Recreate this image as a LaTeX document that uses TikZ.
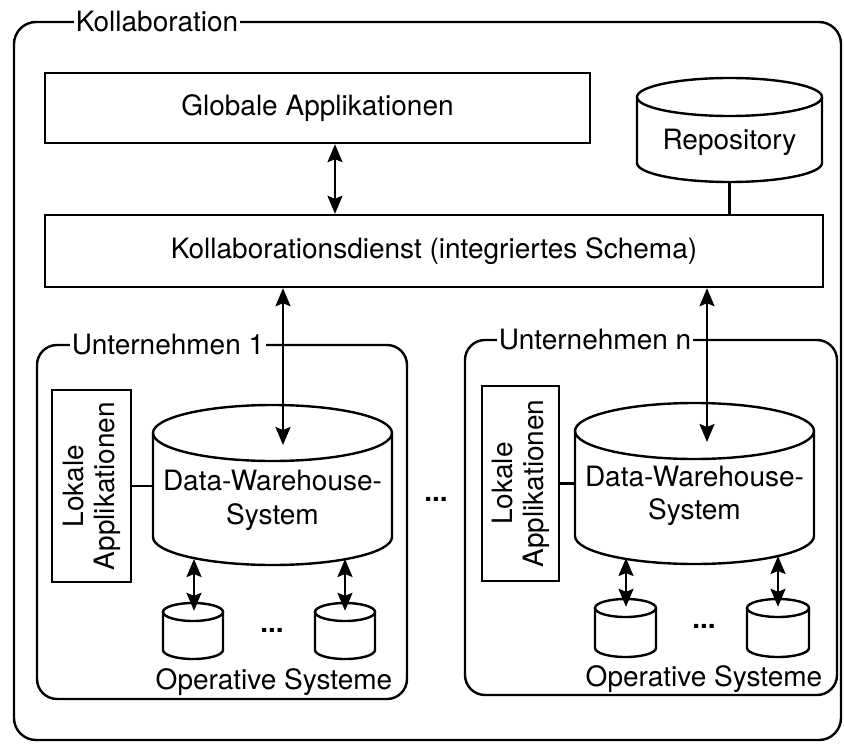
\documentclass[tikz,border=0pt]{standalone}
\usepackage{fontspec}
\setmainfont{TeX Gyre Heros}
\usetikzlibrary{arrows.meta}
\newcommand\mycyl[6]{%
  \draw[cylline] ({(#2+#3)/2},#4) ellipse [x radius={(#3-#2)/2}, y radius=#6];
  \draw[cylline] (#2,#4) -- (#2,#5) arc[start angle=180, end angle=0, x radius={(#3-#2)/2}, y radius=#6] -- (#3,#4);
  \node[minimum width={(#3-#2)*1pt}, minimum height={(#5-#4)*1pt}] (#1) at ({(#2+#3)/2},{(#4+#5)/2}) {};
}
\begin{document}
\begin{tikzpicture}[x=1pt,y=-1pt,
  line width=2.4pt,
  every node/.style={font=\fontsize{28}{31}\selectfont, inner sep=0pt},
  box/.style={draw, rectangle, line width=2.4pt},
  frame/.style={draw, rectangle, rounded corners=22pt, line width=2.4pt},
  lbl/.style={fill=white, inner xsep=1.5pt, inner ysep=1pt},
  cylline/.style={line width=2.4pt},
  dbl/.style={{Stealth[length=18pt,width=15pt,inset=3pt]}-{Stealth[length=18pt,width=15pt,inset=3pt]}, line width=2.2pt},
  conn/.style={line width=2.2pt},
  dots/.style={font=\fontsize{28}{31}\selectfont\bfseries}]
\useasboundingbox (0,0) rectangle (844,744);

% outer frame
\node[frame, minimum width=827pt, minimum height=718pt] (outer) at (427.5,381) {};
\node[lbl] (kollab) at (157,22) {Kollaboration};

% top
\node[box, minimum width=545pt, minimum height=70pt] (glob) at (317.5,108) {Globale Applikationen};
\node[box, minimum width=778pt, minimum height=72pt] (kd) at (434,251) {Kollaborationsdienst (integriertes Schema)};
\mycyl{repo}{637}{822}{97}{163}{19}
\node (repotxt) at (729.5,142) {Repository};
\coordinate (repob) at (729.5,182);
\draw[conn] (repob) -- (kd.north -| repob);
\coordinate (ga) at (335,0);
\draw[dbl] (glob.south -| ga) -- (kd.north -| ga);

% enterprise 1
\node[frame, rounded corners=20pt, minimum width=370pt, minimum height=354pt] (u1) at (222,522) {};
\node[lbl] (u1l) at (168,345) {Unternehmen 1};
\node[box, minimum width=79pt, minimum height=192pt] (la1) at (91.5,486) {};
\node[rotate=90, align=center] (la1t) at (la1) {Lokale\\Applikationen};
\mycyl{dw1}{153}{392}{433}{537}{28}
\node[align=center, font=\fontsize{28}{34}\selectfont] (dw1t) at (272.5,500) {Data-Warehouse-\\System};
\draw[conn] (la1.east) -- (la1.east -| dw1.west);
\coordinate (e1) at (283,445);
\draw[dbl] (kd.south -| e1) -- (e1);
\mycyl{o11}{163}{223}{612}{650}{9}
\mycyl{o12}{315}{375}{612}{650}{9}
\coordinate (a11) at (194,559);
\coordinate (a12) at (345,559);
\draw[dbl] (a11) -- (o11.north -| a11);
\draw[dbl] (a12) -- (o12.north -| a12);
\node[dots] (d1) at (272,630) {...};
\node (os1) at (274,682) {Operative Systeme};

% middle dots
\node[dots] (dm) at (436,499) {...};

% enterprise n
\node[frame, rounded corners=20pt, minimum width=372pt, minimum height=355pt] (u2) at (651,517.5) {};
\node[lbl] (u2l) at (595,340) {Unternehmen n};
\node[box, minimum width=77pt, minimum height=195pt] (la2) at (520.5,483.5) {};
\node[rotate=90, align=center] (la2t) at (la2) {Lokale\\Applikationen};
\mycyl{dw2}{575}{814}{431}{536}{28}
\node[align=center, font=\fontsize{28}{33}\selectfont] (dw2t) at (694.5,496) {Data-Warehouse-\\System};
\draw[conn] (la2.east) -- (la2.east -| dw2.west);
\coordinate (e2) at (707,442);
\draw[dbl] (kd.south -| e2) -- (e2);
\mycyl{o21}{595}{656}{608}{648}{9}
\mycyl{o22}{747}{809}{608}{648}{9}
\coordinate (a21) at (626,558);
\coordinate (a22) at (778,556);
\draw[dbl] (a21) -- (o21.north -| a21);
\draw[dbl] (a22) -- (o22.north -| a22);
\node[dots] (d2) at (704,626) {...};
\node (os2) at (704,679) {Operative Systeme};
\end{tikzpicture}
\end{document}
